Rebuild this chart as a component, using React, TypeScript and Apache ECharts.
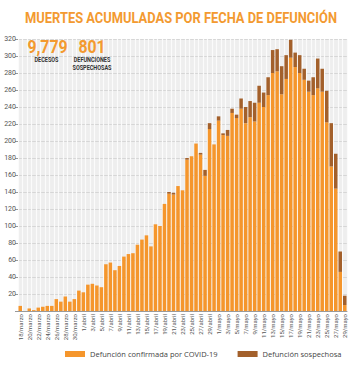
import React, { useEffect, useRef } from "react";
import * as echarts from "echarts";

const categories = [
  "18/marzo","19/marzo","20/marzo","21/marzo","22/marzo","23/marzo","24/marzo","25/marzo","26/marzo","27/marzo","28/marzo","29/marzo","30/marzo","31/marzo",
  "1/abril","2/abril","3/abril","4/abril","5/abril","6/abril","7/abril","8/abril","9/abril","10/abril","11/abril","12/abril","13/abril","14/abril","15/abril","16/abril","17/abril","18/abril","19/abril","20/abril","21/abril","22/abril","23/abril","24/abril","25/abril","26/abril","27/abril","28/abril","29/abril","30/abril",
  "1/mayo","2/mayo","3/mayo","4/mayo","5/mayo","6/mayo","7/mayo","8/mayo","9/mayo","10/mayo","11/mayo","12/mayo","13/mayo","14/mayo","15/mayo","16/mayo","17/mayo","18/mayo","19/mayo","20/mayo","21/mayo","22/mayo","23/mayo","24/mayo","25/mayo","26/mayo","27/mayo","28/mayo","29/mayo"
];

const confirmadas = [
  6, 0, 3, 1, 4, 5, 6, 6, 14, 11,
  17, 11, 14, 24, 22, 31, 32, 30, 28, 55,
  57, 48, 53, 64, 67, 68, 78, 84, 89, 76,
  102, 100, 126, 138, 137, 147, 142, 178, 182, 197,
  184, 159, 214, 196, 224, 207, 206, 233, 227, 238,
  221, 228, 223, 245, 240, 254, 280, 282, 255, 273,
  298, 287, 280, 272, 258, 254, 262, 258, 222, 170,
  144, 46, 7
];

const sospechosas = [
  0, 0, 0, 0, 0, 0, 0, 0, 0, 0,
  0, 0, 0, 0, 0, 0, 0, 0, 0, 0,
  0, 0, 0, 0, 0, 0, 0, 0, 0, 0,
  0, 0, 0, 2, 2, 0, 0, 2, 0, 0,
  2, 7, 7, 0, 5, 2, 7, 5, 4, 12,
  19, 19, 22, 20, 17, 21, 27, 26, 33, 28,
  21, 17, 21, 13, 13, 21, 35, 27, 37, 51,
  41, 24, 11
];

const yTicks = { min: 0, max: 320, interval: 20 };

const TITLE = "MUERTES ACUMULADAS POR FECHA DE DEFUNCIÓN";
const ORANGE = "#F5962C";
const BROWN = "#A3602B";
const TITLE_ORANGE = "#F39A30";

function txt(text: string, x: number, y: number, size: number, color: string, sx: number) {
  return {
    type: "text",
    x,
    y,
    z: 100,
    scaleX: sx,
    style: {
      text,
      fill: color,
      fontSize: size,
      fontWeight: "bold",
      fontFamily: "Roboto",
      textAlign: "center",
      textVerticalAlign: "middle",
    },
  };
}

export default function App() {
  const ref = useRef<HTMLDivElement>(null);
  useEffect(() => {
    if (!ref.current) return;
    const chart = echarts.init(ref.current, undefined, { renderer: "svg" });
    chart.setOption({
      animation: false,
      backgroundColor: "#ffffff",
      textStyle: { fontFamily: "Roboto" },
      grid: {
        left: 18,
        right: 3,
        top: 39,
        bottom: 54,
        show: true,
        backgroundColor: "#eeeeee",
        borderWidth: 0,
      },
      legend: {
        left: 60,
        top: 345,
        itemWidth: 20,
        itemHeight: 6,
        itemGap: 20,
        icon: "rect",
        textStyle: { fontSize: 7.5, color: "#444", fontFamily: "Open Sans" },
        data: ["Defunción confirmada por COVID-19", "Defunción sospechosa"],
      },
      xAxis: {
        type: "category",
        data: categories,
        axisLine: { show: true, lineStyle: { color: "#9a9a9a", width: 1 } },
        axisTick: { show: false },
        splitLine: { show: true, interval: 0, lineStyle: { color: "#fbfbfb", width: 1.2 } },
        axisLabel: {
          interval: 1,
          rotate: 90,
          fontSize: 6,
          color: "#555",
          margin: 3,
          fontFamily: "Roboto",
        },
      },
      yAxis: {
        type: "value",
        min: yTicks.min,
        max: yTicks.max,
        interval: yTicks.interval,
        axisLine: { show: false },
        axisTick: { show: true, length: 3, lineStyle: { color: "#999" } },
        splitLine: { show: true, lineStyle: { color: "#d6d6d6", width: 1 } },
        axisLabel: {
          fontSize: 7,
          color: "#555",
          margin: 2,
          fontFamily: "Roboto",
          formatter: (v: number) => (v === 0 ? "" : String(v)),
        },
      },
      series: [
        {
          name: "Defunción confirmada por COVID-19",
          type: "bar",
          stack: "total",
          data: confirmadas,
          barCategoryGap: "22%",
          itemStyle: { color: ORANGE },
        },
        {
          name: "Defunción sospechosa",
          type: "bar",
          stack: "total",
          data: sospechosas,
          barCategoryGap: "22%",
          itemStyle: { color: BROWN },
        },
      ],
      graphic: [
        txt(TITLE, 181, 18, 15, TITLE_ORANGE, 0.86),
        txt("9,779", 47.5, 47, 18, TITLE_ORANGE, 0.88),
        txt("801", 92, 47, 18, TITLE_ORANGE, 0.88),
        txt("DECESOS", 46.5, 59.5, 6.5, "#333", 0.85),
        txt("DEFUNCIONES", 92, 59.5, 6.5, "#333", 0.85),
        txt("SOSPECHOSAS", 92, 67, 6.5, "#333", 0.85),
      ],
    });
    return () => chart.dispose();
  }, []);
  return (
    <div
      ref={ref}
      style={{ position: "fixed", left: 0, top: 0, width: 350, height: 365, background: "#fff" }}
    />
  );
}
